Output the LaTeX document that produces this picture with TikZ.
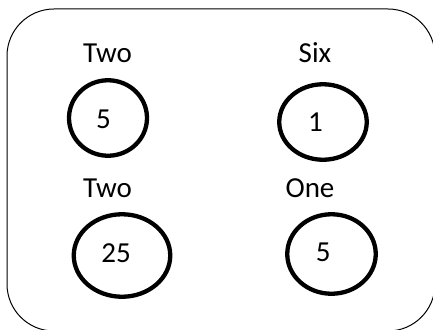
\documentclass[tikz,border=0pt]{standalone}
\usepackage{fontspec}
\setmainfont{Carlito}
\usetikzlibrary{shapes.geometric}
\begin{document}
\begin{tikzpicture}[x=1pt,y=-1pt,
  ring/.style={draw=black,line width=4.3pt,ellipse,inner sep=0pt,outer sep=0pt},
  txt/.style={inner sep=0pt,anchor=base,font=\fontsize{29}{35}\selectfont}]
\useasboundingbox (0,0) rectangle (433,329);
\draw[line width=1pt,rounded corners=47pt] (7,9) rectangle (435,331);
% circles
\node[ring,minimum width=78pt,minimum height=75.5pt] (c1) at (108,118) {};
\node[ring,minimum width=87.5pt,minimum height=75.5pt] (c2) at (323,122) {};
\node[ring,minimum width=96.5pt,minimum height=82.5pt] (c3) at (122,255.5) {};
\node[ring,minimum width=88.5pt,minimum height=79.5pt] (c4) at (331.5,254) {};
% labels
\node[txt] (l1) at (107.5,62.3) {Two};
\node[txt] (l2) at (315,62.3) {Six};
\node[txt] (l3) at (107.5,197.3) {Two};
\node[txt] (l4) at (310,197.5) {One};
% numbers
\node[txt] (n1) at (103.5,128.3) {5};
\node[txt] (n2) at (315.5,131.7) {1};
\node[txt] (n3) at (116,262.3) {25};
\node[txt] (n4) at (323.3,261.8) {5};
\end{tikzpicture}
\end{document}
